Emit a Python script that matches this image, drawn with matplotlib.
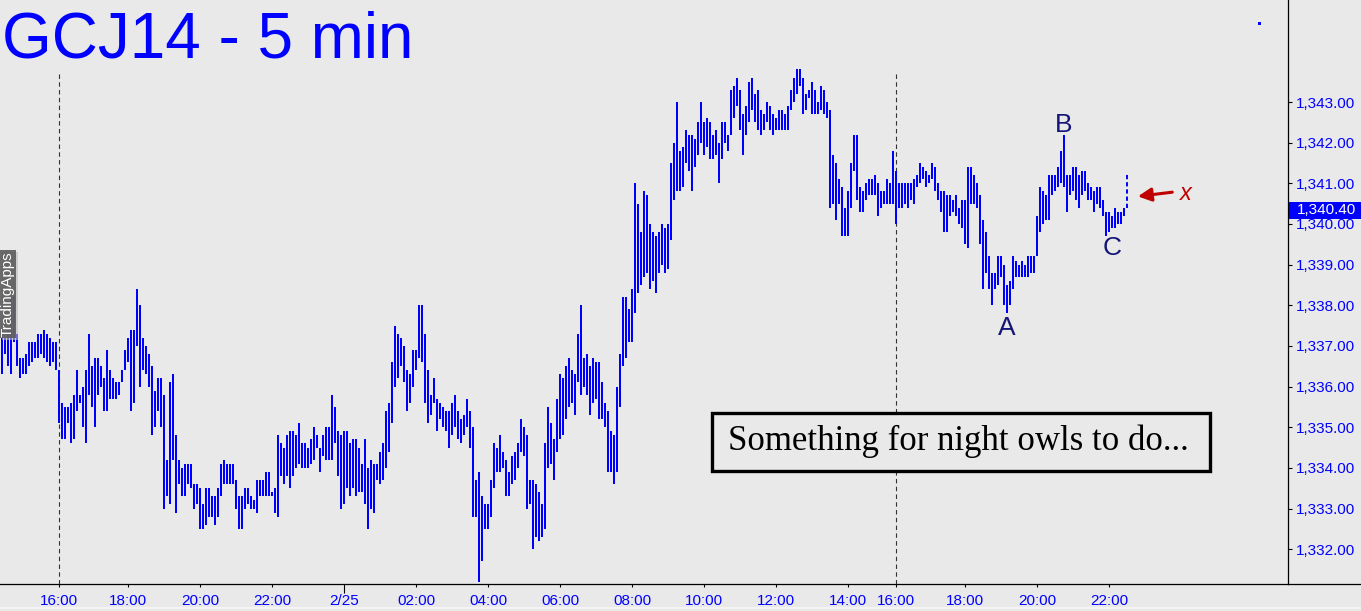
import matplotlib
matplotlib.use("Agg")
import matplotlib.pyplot as plt
import numpy as np
import pandas as pd
from matplotlib.patches import Rectangle
from matplotlib.lines import Line2D
from matplotlib.ticker import FuncFormatter

plt.rcParams["font.family"] = ["Liberation Sans", "DejaVu Sans"]

# --- data: GCJ14 5-minute bars (high / low) ---
sessions = [("2014-02-24 13:45", "2014-02-24 15:15"),
            ("2014-02-24 16:05", "2014-02-25 15:15"),
            ("2014-02-25 16:05", "2014-02-25 22:25")]

highs = [
    1337.4, 1337.2, 1337.4, 1338.2, 1338.2, 1337.3, 1336.7, 1336.7, 1336.8, 1337.1,
    1337.1, 1337.1, 1337.3, 1337.3, 1337.4, 1337.3, 1337.2, 1337.1, 1337.1, 1336.4,
    1335.6, 1335.5, 1335.5, 1335.6, 1335.8, 1336.4, 1335.8, 1336.0, 1336.4, 1337.3,
    1336.5, 1336.7, 1336.7, 1336.5, 1336.2, 1336.9, 1336.4, 1336.2, 1336.1, 1336.1,
    1336.4, 1336.9, 1337.2, 1337.4, 1337.4, 1338.4, 1338.0, 1337.2, 1337.0, 1336.8,
    1336.5, 1335.9, 1336.2, 1336.2, 1335.8, 1334.2, 1336.1, 1336.3, 1334.8, 1334.2,
    1334.0, 1334.1, 1334.1, 1334.1, 1333.6, 1333.6, 1333.5, 1333.1, 1333.5, 1333.5,
    1333.3, 1333.3, 1333.5, 1334.1, 1334.2, 1334.1, 1334.1, 1334.1, 1333.7, 1333.3,
    1333.3, 1333.5, 1333.5, 1333.3, 1333.2, 1333.7, 1333.7, 1333.7, 1333.9, 1333.9,
    1333.4, 1333.5, 1334.8, 1334.6, 1334.5, 1334.8, 1334.9, 1334.9, 1334.8, 1335.1,
    1334.6, 1334.6, 1334.5, 1334.7, 1335.0, 1334.8, 1334.5, 1334.8, 1335.0, 1335.0,
    1335.8, 1335.5, 1334.9, 1334.8, 1334.9, 1334.9, 1334.6, 1334.7, 1334.7, 1334.5,
    1334.1, 1334.7, 1334.0, 1334.2, 1334.1, 1334.1, 1334.4, 1334.6, 1335.4, 1335.6,
    1336.6, 1337.5, 1337.3, 1337.2, 1337.0, 1336.4, 1336.3, 1336.9, 1336.9, 1338.0,
    1338.0, 1337.3, 1336.4, 1335.8, 1336.2, 1335.7, 1335.6, 1335.5, 1335.4, 1335.4,
    1335.6, 1335.8, 1335.4, 1335.2, 1335.3, 1335.7, 1335.4, 1335.0, 1333.7, 1333.9,
    1333.3, 1333.1, 1333.1, 1333.7, 1334.6, 1334.5, 1334.8, 1334.4, 1334.2, 1333.9,
    1334.3, 1334.4, 1334.6, 1335.2, 1335.0, 1334.8, 1333.7, 1333.7, 1333.6, 1333.4,
    1333.1, 1334.6, 1335.5, 1335.1, 1334.7, 1335.7, 1336.3, 1336.2, 1336.5, 1336.7,
    1336.4, 1336.3, 1337.3, 1338.0, 1336.7, 1336.8, 1336.5, 1336.7, 1336.6, 1336.6,
    1336.1, 1335.6, 1335.4, 1334.9, 1334.8, 1336.0, 1336.8, 1338.2, 1338.2, 1337.9,
    1338.4, 1341.0, 1340.5, 1339.8, 1340.8, 1340.7, 1340.0, 1339.8, 1339.7, 1339.8,
    1340.0, 1339.9, 1340.0, 1341.5, 1342.0, 1343.0, 1341.8, 1341.9, 1342.3, 1342.2,
    1342.2, 1342.1, 1342.5, 1343.0, 1342.5, 1342.6, 1342.5, 1342.2, 1342.3, 1342.0,
    1342.5, 1342.5, 1342.2, 1343.3, 1343.4, 1343.6, 1343.3, 1342.7, 1342.9, 1343.5,
    1343.6, 1343.2, 1343.3, 1342.8, 1342.7, 1343.0, 1342.9, 1342.7, 1342.6, 1342.8,
    1342.8, 1342.7, 1342.9, 1343.3, 1343.6, 1343.8, 1343.8, 1343.6, 1343.2, 1343.3,
    1343.5, 1343.3, 1343.0, 1343.4, 1343.3, 1343.0, 1342.8, 1341.7, 1341.5, 1341.1,
    1340.9, 1340.4, 1340.8, 1341.5, 1342.2, 1342.2, 1340.9, 1340.8, 1341.0, 1341.1,
    1341.1, 1341.2, 1341.0, 1340.8, 1340.8, 1341.1, 1341.0, 1341.8, 1341.3, 1341.0,
    1341.0, 1341.0, 1341.0, 1341.0, 1341.1, 1341.2, 1341.5, 1341.4, 1341.3, 1341.2,
    1341.5, 1341.4, 1341.0, 1340.8, 1340.8, 1340.7, 1340.7, 1340.6, 1340.7, 1340.4,
    1340.6, 1340.6, 1341.4, 1341.4, 1341.2, 1341.0, 1340.7, 1340.1, 1339.8, 1339.2,
    1338.8, 1338.8, 1339.2, 1339.2, 1339.0, 1338.5, 1338.6, 1339.2, 1339.1, 1339.0,
    1339.1, 1339.0, 1339.2, 1339.2, 1339.2, 1340.2, 1340.9, 1340.8, 1340.7, 1341.2,
    1341.2, 1341.2, 1341.4, 1341.8, 1342.2, 1341.2, 1341.2, 1341.4, 1341.4, 1341.2,
    1341.3, 1341.3, 1341.0, 1340.9, 1340.8, 1340.9, 1340.9, 1340.6, 1340.3, 1340.3,
    1340.2, 1340.4, 1340.3, 1340.3, 1340.4,
]

lows = [
    1336.3, 1336.8, 1336.5, 1336.3, 1337.1, 1336.5, 1336.2, 1336.3, 1336.3, 1336.5,
    1336.6, 1336.7, 1336.7, 1336.8, 1336.7, 1336.6, 1336.5, 1336.6, 1336.4, 1335.1,
    1334.7, 1334.7, 1335.1, 1334.6, 1334.7, 1335.4, 1335.6, 1335.0, 1334.6, 1335.8,
    1335.5, 1335.0, 1335.8, 1336.0, 1335.4, 1335.4, 1335.7, 1335.7, 1335.7, 1335.8,
    1336.1, 1336.4, 1336.6, 1335.4, 1335.6, 1337.0, 1336.0, 1336.4, 1336.3, 1336.0,
    1334.8, 1335.0, 1335.4, 1335.0, 1333.0, 1333.3, 1333.1, 1334.2, 1332.9, 1333.6,
    1333.3, 1333.3, 1333.6, 1333.5, 1333.0, 1333.1, 1332.5, 1332.5, 1332.6, 1332.8,
    1332.8, 1332.6, 1332.8, 1333.3, 1333.6, 1333.6, 1333.6, 1333.6, 1333.0, 1332.5,
    1332.5, 1333.0, 1333.1, 1333.0, 1333.0, 1332.9, 1333.3, 1333.3, 1333.3, 1333.3,
    1333.3, 1332.9, 1332.8, 1333.8, 1333.6, 1333.8, 1333.5, 1333.8, 1334.0, 1334.1,
    1334.0, 1334.0, 1334.0, 1334.1, 1334.2, 1334.5, 1333.9, 1334.3, 1334.2, 1334.2,
    1334.2, 1334.6, 1333.8, 1333.0, 1333.1, 1333.5, 1333.3, 1333.5, 1333.3, 1333.4,
    1333.4, 1333.1, 1332.5, 1333.0, 1332.9, 1333.7, 1333.6, 1333.7, 1334.0, 1334.4,
    1335.1, 1336.0, 1336.2, 1336.5, 1336.1, 1335.4, 1335.6, 1336.0, 1336.4, 1336.7,
    1336.6, 1335.6, 1335.1, 1335.3, 1335.6, 1334.9, 1335.2, 1335.0, 1334.9, 1334.5,
    1334.8, 1335.0, 1334.7, 1334.6, 1334.8, 1335.0, 1334.5, 1332.8, 1332.8, 1331.2,
    1331.7, 1332.5, 1332.5, 1332.8, 1333.5, 1333.9, 1333.9, 1334.0, 1333.3, 1333.3,
    1333.6, 1333.7, 1334.0, 1334.4, 1334.3, 1333.0, 1333.1, 1332.0, 1332.3, 1332.2,
    1332.3, 1332.5, 1334.0, 1334.1, 1333.7, 1334.4, 1334.7, 1334.8, 1335.2, 1335.5,
    1335.6, 1335.3, 1336.1, 1335.8, 1336.0, 1335.8, 1335.3, 1335.6, 1335.7, 1335.2,
    1335.2, 1335.0, 1333.9, 1333.9, 1333.6, 1333.9, 1335.5, 1336.5, 1336.7, 1337.1,
    1337.1, 1337.8, 1338.3, 1338.5, 1338.7, 1338.8, 1338.4, 1338.6, 1338.3, 1338.8,
    1339.0, 1338.8, 1338.9, 1339.6, 1340.6, 1340.8, 1340.8, 1340.9, 1341.5, 1341.3,
    1340.8, 1341.4, 1341.7, 1342.0, 1341.7, 1341.9, 1341.6, 1341.6, 1341.7, 1341.0,
    1341.6, 1342.0, 1341.8, 1342.2, 1342.6, 1342.9, 1342.3, 1341.7, 1342.2, 1342.5,
    1342.8, 1342.5, 1342.3, 1342.2, 1342.3, 1342.5, 1342.3, 1342.2, 1342.3, 1342.3,
    1342.3, 1342.3, 1342.3, 1342.8, 1343.0, 1343.2, 1343.4, 1342.7, 1342.8, 1343.1,
    1342.7, 1342.7, 1342.7, 1342.8, 1342.7, 1342.6, 1340.4, 1340.5, 1340.1, 1340.5,
    1339.7, 1339.7, 1339.7, 1340.4, 1341.3, 1340.6, 1340.3, 1340.3, 1340.6, 1340.7,
    1340.7, 1340.7, 1340.2, 1340.4, 1340.5, 1340.5, 1340.5, 1340.5, 1340.0, 1340.4,
    1340.4, 1340.5, 1340.4, 1340.6, 1340.5, 1340.9, 1341.0, 1341.1, 1340.9, 1341.0,
    1341.1, 1340.8, 1340.6, 1340.3, 1339.8, 1339.8, 1340.2, 1340.3, 1340.2, 1340.0,
    1339.9, 1339.5, 1339.4, 1340.5, 1340.5, 1340.4, 1339.5, 1338.4, 1338.8, 1338.4,
    1338.0, 1338.4, 1338.5, 1338.7, 1338.0, 1337.8, 1338.0, 1338.4, 1338.7, 1338.7,
    1338.7, 1338.7, 1338.7, 1338.8, 1338.8, 1339.2, 1339.8, 1340.0, 1340.1, 1340.1,
    1340.7, 1340.8, 1340.9, 1341.0, 1340.9, 1340.3, 1340.7, 1340.8, 1340.6, 1340.4,
    1340.7, 1340.8, 1340.6, 1340.6, 1340.3, 1340.5, 1340.4, 1340.2, 1339.7, 1339.8,
    1339.9, 1339.9, 1340.0, 1340.0, 1340.2,
]

last_price = 1340.40
target_top = 1341.25          # top of the dashed "next bar" marker
wave_labels = {"A": "2014-02-25 19:10", "B": "2014-02-25 20:45", "C": "2014-02-25 22:05"}
y_ticks = list(range(1332, 1344))

# --- build the time axis (bar index, sessions have gaps) ---
times = pd.DatetimeIndex(np.concatenate(
    [pd.date_range(a, b, freq="5min").values for a, b in sessions]))
assert len(times) == len(highs) == len(lows)
idx = np.arange(len(times))
highs = np.array(highs)
lows = np.array(lows)

hours = pd.date_range("2014-02-24 16:00", "2014-02-25 22:00", freq="2h")
tick_pos = times.searchsorted(hours)
tick_lab = ["%d/%d" % (h.month, h.day) if h.hour == 0 else h.strftime("%H:%M") for h in hours]
session_starts = times.searchsorted(pd.DatetimeIndex([s[0] for s in sessions[1:]]))

BG = "#E9E9E9"
BLUE = "#0000FF"
W, H = 1361, 611

def fx(px):
    return px / W

def fy(py):
    return 1 - py / H

fig = plt.figure(figsize=(W / 100, H / 100), dpi=100)
fig.patch.set_facecolor(BG)
ax = fig.add_axes([0, fy(584), fx(1288), 584 / H])
ax.set_facecolor(BG)

px_per_price = 40.65
ax.set_xlim(-2 / 3, 1286 / 3)
ax.set_ylim(1343 - 482 / px_per_price, 1343 + 102 / px_per_price)

# bars (high-low only), 2 px wide on a 3 px pitch
ax.bar(idx, highs - lows, bottom=lows, width=2 / 3, color=BLUE, linewidth=0,
       antialiased=False, zorder=3)

# session separators
for s in session_starts:
    ax.plot([s, s], [ax.get_ylim()[0], 1343.76], color="#333333", lw=0.8,
            dashes=(4, 3), zorder=2)

# next bar marker + arrow + x
nxt = len(times)
ax.plot([nxt, nxt], [last_price, target_top], color=BLUE, lw=1.4, dashes=(2.2, 1.5), zorder=3)
ax.annotate("", xy=(nxt + 2.7, last_price + 0.27), xytext=(nxt + 16, last_price + 0.39),
            arrowprops=dict(arrowstyle="-|>", color="#C00000", lw=2.2, mutation_scale=20))
ax.text(nxt + 19.7, last_price + 0.34, "x", color="#C00000", fontsize=17, style="italic",
        ha="center", va="center")

# A B C labels
navy = "#151577"
for name, t in wave_labels.items():
    i = times.get_loc(pd.Timestamp(t))
    if name == "B":
        ax.annotate(name, xy=(i, highs[i]), xytext=(0, 3), textcoords="offset pixels",
                    ha="center", va="baseline", fontsize=19, color=navy)
    else:
        off = -3 if name == "A" else -8
        ax.annotate(name, xy=(i, lows[i]), xytext=(0, off), textcoords="offset pixels",
                    ha="center", va="top", fontsize=19, color=navy)

# axes styling
for side in ["left", "top"]:
    ax.spines[side].set_visible(False)
for side in ["right", "bottom"]:
    ax.spines[side].set_color("black")
    ax.spines[side].set_linewidth(0.9)
ax.yaxis.tick_right()
ax.set_yticks(y_ticks)
ax.yaxis.set_major_formatter(FuncFormatter(lambda v, p: f"{v:,.2f}"))
ax.tick_params(axis="y", direction="out", length=3, width=0.8, pad=3,
               labelsize=11, labelcolor=BLUE)

major = [p for p, l in zip(tick_pos, tick_lab) if "/" in l]
major_lab = [l for l in tick_lab if "/" in l]
minor = [p for p, l in zip(tick_pos, tick_lab) if "/" not in l]
minor_lab = [l for l in tick_lab if "/" not in l]
ax.set_xticks(major, major_lab)
ax.set_xticks(minor, minor_lab, minor=True)
ax.tick_params(axis="x", which="major", direction="out", length=6.5, width=0.8, pad=0.5,
               labelsize=11, labelcolor=BLUE)
ax.tick_params(axis="x", which="minor", direction="out", length=2.5, width=0.8, pad=4.5,
               labelsize=11, labelcolor=BLUE)

# bottom axis line continues under the price scale
fig.add_artist(Line2D([fx(1288), 1], [fy(584), fy(584)], color="black", lw=0.9))
fig.add_artist(Line2D([0, 1], [fy(608), fy(608)], color="#F7F7F7", lw=1.2))

# last price box
fig.add_artist(Rectangle((fx(1289), fy(219)), fx(72), 17 / H, color=BLUE, lw=0))
fig.text(fx(1297), fy(210.5), f"{last_price:,.2f}", color="white", fontsize=11,
         ha="left", va="center")

# tiny blue dot near top right
fig.add_artist(Rectangle((fx(1258), fy(25)), fx(2.5), 3 / H, color=BLUE, lw=0))

# title
fig.text(fx(2), fy(58), "GCJ14 - 5 min", color=BLUE, fontsize=46, ha="left", va="baseline")

# comment box
fig.add_artist(Rectangle((fx(712), fy(471)), fx(498), 58 / H, facecolor=BG,
                         edgecolor="black", lw=2.4, zorder=5))
fig.text(fx(958), fy(450), "Something for night owls to do...", color="black",
         fontsize=25, family=["Liberation Serif", "DejaVu Serif"],
         ha="center", va="baseline", zorder=6)

# TradingApps tab
fig.add_artist(Rectangle((fx(2), fy(340)), fx(16), 88 / H, color="#bdbdbd", lw=0, alpha=0.6, zorder=7))
fig.add_artist(Rectangle((0, fy(338)), fx(16), 88 / H, color="#5c5c5c", lw=0, alpha=0.9, zorder=8))
fig.text(fx(8), fy(294), "TradingApps", color="white", fontsize=11, rotation=90,
         ha="center", va="center", zorder=9)

fig.savefig("out.png", dpi=100, facecolor=BG)
